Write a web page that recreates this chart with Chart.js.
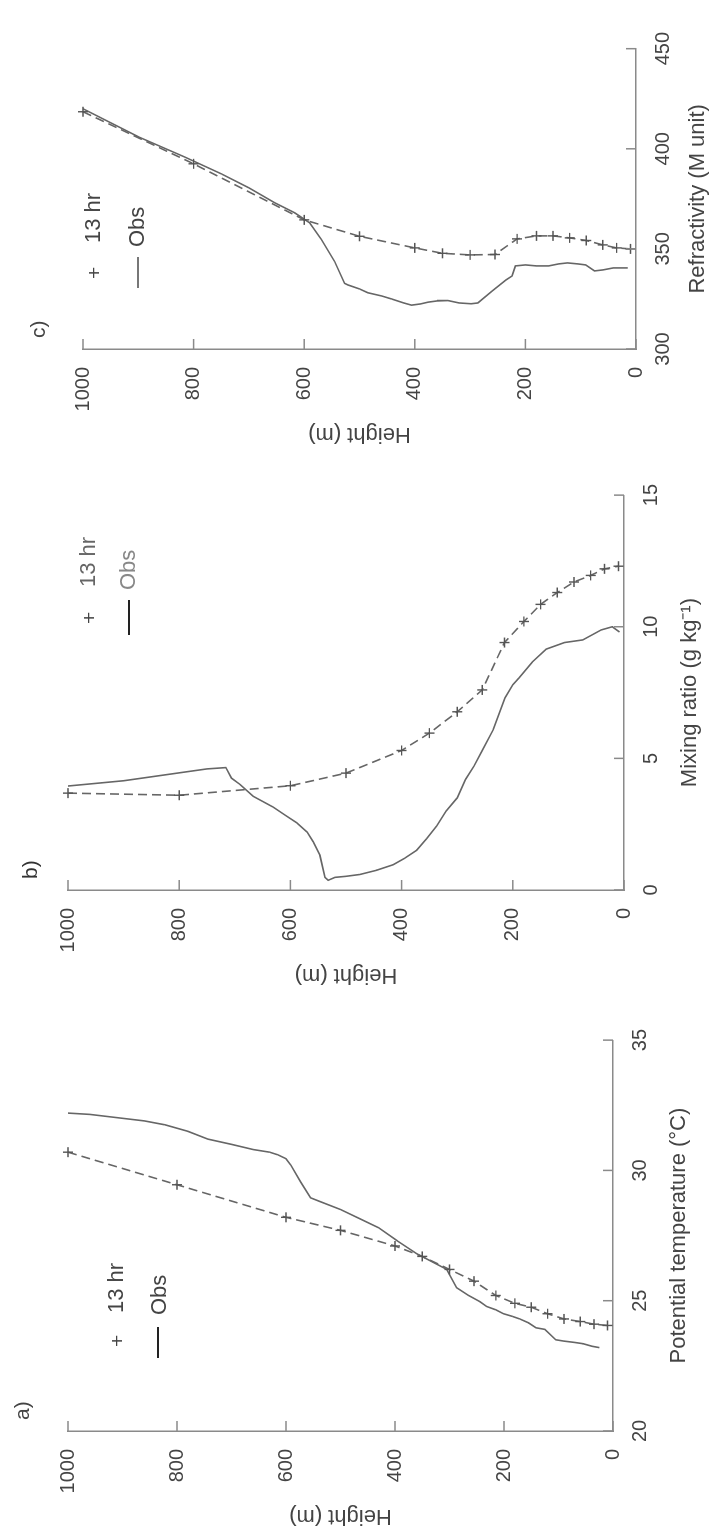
<!DOCTYPE html>
<html>
<head>
<meta charset="utf-8">
<script src="https://cdn.jsdelivr.net/npm/chart.js@4.4.1/dist/chart.umd.min.js"></script>
<style>
    html, body { margin: 0; padding: 0; background: #fff; overflow: hidden; }
    /* figura montada deitada (1529x715) e girada 90 graus, como no original escaneado */
    #figura {
        position: absolute; left: 0; top: 0; width: 1529px; height: 715px;
        transform-origin: 0 0; transform: translate(0px, 1529px) rotate(-90deg);
        font-family: 'Liberation Sans', Arial, sans-serif; color: #444;
    }
    #figura canvas { position: absolute; top: 0; }
    .rotulo { position: absolute; font-size: 21px; line-height: 1; white-space: nowrap; }
    .linha_leg { position: absolute; height: 0; border-top: 2px solid #222; }
</style>
</head>
<body>
<div id="figura">
    <canvas id="grafico_a" width="515" height="715" style="left:0px"></canvas>
    <canvas id="grafico_b" width="519" height="715" style="left:541px"></canvas>
    <canvas id="grafico_c" width="430" height="715" style="left:1082px"></canvas>

    <div class="rotulo" style="left:109px; top:11px">a)</div>
    <div class="rotulo" style="left:182px; top:106px">+</div>
    <div class="rotulo" style="left:216px; top:105px; font-size:22px">13 hr</div>
    <div class="linha_leg" style="left:171px; top:157px; width:31px"></div>
    <div class="rotulo" style="left:214px; top:148px; font-size:22px">Obs</div>

    <div class="rotulo" style="left:650px; top:19px; color:#333">b)</div>
    <div class="rotulo" style="left:905px; top:78px">+</div>
    <div class="rotulo" style="left:942px; top:77px; font-size:22px; color:#666">13 hr</div>
    <div class="linha_leg" style="left:894px; top:128px; width:35px"></div>
    <div class="rotulo" style="left:939px; top:117px; font-size:22px; color:#888">Obs</div>

    <div class="rotulo" style="left:1191px; top:27px">c)</div>
    <div class="rotulo" style="left:1250px; top:83px">+</div>
    <div class="rotulo" style="left:1286px; top:82px; font-size:22px">13 hr</div>
    <div class="linha_leg" style="left:1241px; top:137px; width:31px; border-top-color:#777"></div>
    <div class="rotulo" style="left:1282px; top:126px; font-size:22px">Obs</div>
</div>

<script>
// alturas (m) dos niveis do modelo, usadas nas tres curvas de 13 hr
var alturas_modelo = [1000, 800, 600, 500, 400, 350, 300, 255, 215, 180, 150, 120, 90, 60, 35, 10];
var ticks_altura = [0, 200, 400, 600, 800, 1000];

// a) temperatura potencial (C)
var ticks_temp = [20, 25, 30, 35];
var temp_13hr = [30.7, 29.45, 28.2, 27.7, 27.1, 26.7, 26.2, 25.75, 25.2, 24.9, 24.75, 24.5, 24.3, 24.2, 24.1, 24.05];
var alturas_temp_obs = [1000, 960, 900, 860, 822, 780, 743, 700, 660, 630, 615, 600, 591, 573, 555, 537, 500, 470, 430, 396,
    360, 323, 305, 287, 265, 244, 232, 215, 201, 185, 171, 155, 141, 125, 105, 90, 71, 55, 38, 25];
var temp_obs = [32.2, 32.15, 32.0, 31.9, 31.75, 31.5, 31.2, 31.0, 30.8, 30.7, 30.6, 30.45, 30.2, 29.55, 28.95, 28.8, 28.5, 28.2, 27.8, 27.3,
    26.8, 26.4, 26.2, 25.5, 25.2, 24.96, 24.78, 24.65, 24.5, 24.4, 24.3, 24.15, 23.96, 23.9, 23.5, 23.45, 23.4, 23.35, 23.25, 23.2];

// b) razao de mistura (g/kg)
var ticks_mistura = [0, 5, 10, 15];
var mistura_13hr = [3.68, 3.6, 3.96, 4.44, 5.3, 5.96, 6.77, 7.6, 9.4, 10.2, 10.85, 11.3, 11.7, 11.95, 12.2, 12.3];
var alturas_mistura_obs = [1000, 900, 800, 750, 716, 706, 690, 667, 631, 610, 589, 570, 559, 547, 538, 532, 520, 500, 475, 445,
    415, 395, 373, 355, 337, 320, 300, 285, 270, 255, 235, 214, 200, 189, 165, 140, 107, 74, 41, 21, 8];
var mistura_obs = [3.95, 4.15, 4.45, 4.6, 4.65, 4.25, 4.0, 3.56, 3.15, 2.85, 2.56, 2.2, 1.83, 1.32, 0.48, 0.37, 0.48, 0.52, 0.59, 0.75,
    0.96, 1.2, 1.51, 1.95, 2.43, 3.0, 3.5, 4.2, 4.7, 5.3, 6.1, 7.3, 7.8, 8.05, 8.66, 9.15, 9.4, 9.5, 9.88, 10.0, 9.8];

// c) refratividade (unidades M)
var ticks_refrat = [300, 350, 400, 450];
var refrat_13hr = [418.5, 392.5, 364.5, 356.3, 350.5, 347.8, 347, 347.2, 355, 356.5, 356.5, 355.5, 354.2, 352, 350.5, 350];
var alturas_refrat_obs = [1000, 900, 817, 750, 700, 653, 617, 590, 569, 545, 527, 521, 500, 485, 460, 442, 420, 406, 390, 376,
    360, 340, 320, 298, 286, 260, 235, 224, 218, 200, 180, 158, 140, 124, 105, 91, 75, 60, 41, 25, 15];
var refrat_obs = [420, 406, 396, 387.5, 380.5, 373, 368, 363, 354.7, 343.7, 332.8, 332, 330, 328.1, 326.5, 325, 323, 321.9, 322.5, 323.4,
    324, 324.2, 323, 322.6, 323, 329, 334.5, 336.5, 341.5, 342, 341.5, 341.5, 342.5, 343, 342.5, 342, 339, 339.5, 340.5, 340.5, 340.5];

var cor_linha = '#666';
var cor_eixo = '#8a8a8a';
var cor_texto = '#444';
var fonte = "'Liberation Sans', Arial, sans-serif";

// marcas dos eixos voltadas para dentro do grafico
var marcas_internas = {
    id: 'marcas_internas',
    afterDatasetsDraw(chart) {
        var ctx = chart.ctx;
        var area = chart.chartArea;
        var sx = chart.scales.x;
        var sy = chart.scales.y;
        ctx.save();
        ctx.strokeStyle = cor_eixo;
        ctx.lineWidth = 1.5;
        sx.ticks.forEach(t => {
            var px = sx.getPixelForValue(t.value);
            ctx.beginPath();
            ctx.moveTo(px, area.bottom);
            ctx.lineTo(px, area.bottom - 10);
            ctx.stroke();
        });
        sy.ticks.forEach(t => {
            var py = sy.getPixelForValue(t.value);
            ctx.beginPath();
            ctx.moveTo(area.left, py);
            ctx.lineTo(area.left + 10, py);
            ctx.stroke();
        });
        ctx.restore();
    }
};

function construir_grafico(id, cfg) {
    var ctx = document.getElementById(id);

    var data = {
        datasets: [{
            label: '13 hr',
            data: alturas_modelo.map((h, i) => ({x: cfg.modelo[i], y: h})),
            showLine: true,
            borderColor: cor_linha,
            borderWidth: 1.6,
            borderDash: [9, 5],
            pointStyle: 'cross',
            pointRadius: 5,
            pointBorderWidth: 1.4,
            pointBorderColor: '#555',
            clip: 10
        }, {
            label: 'Obs',
            data: cfg.alturas_obs.map((h, i) => ({x: cfg.obs[i], y: h})),
            showLine: true,
            borderColor: cor_linha,
            borderWidth: 1.6,
            pointRadius: 0,
            clip: 10
        }]
    };

    new Chart(ctx, {
        type: 'scatter',
        data: data,
        options: {
            responsive: false,
            animation: false,
            layout: { padding: { left: 0, top: cfg.topo, right: 16, bottom: 0 } },
            plugins: { legend: { display: false }, tooltip: { enabled: false } },
            scales: {
                x: {
                    type: 'linear',
                    min: cfg.ticks_x[0],
                    max: cfg.ticks_x[cfg.ticks_x.length - 1],
                    afterBuildTicks: s => { s.ticks = cfg.ticks_x.map(v => ({value: v})); },
                    afterFit: s => { s.height = 715 - cfg.base; },
                    grid: { display: false, drawTicks: false },
                    border: { color: cor_eixo, width: 1.5 },
                    ticks: {
                        padding: 15, maxRotation: 0, color: cor_texto,
                        font: { family: fonte, size: 20 },
                        callback: v => String(v)
                    },
                    title: {
                        display: true, text: cfg.titulo_x, color: cor_texto,
                        font: { family: fonte, size: 22 },
                        padding: { top: 0, bottom: cfg.pad_titulo }
                    }
                },
                y: {
                    type: 'linear',
                    min: 0,
                    max: 1000,
                    afterBuildTicks: s => { s.ticks = ticks_altura.map(v => ({value: v})); },
                    afterFit: s => { s.width = 98; },
                    grid: { display: false, drawTicks: false },
                    border: { color: cor_eixo, width: 1.5 },
                    ticks: {
                        padding: 18, color: cor_texto,
                        font: { family: fonte, size: 20 },
                        callback: v => String(v)
                    },
                    title: {
                        display: true, text: 'Height (m)', color: cor_texto,
                        font: { family: fonte, size: 22 },
                        padding: 0
                    }
                }
            }
        },
        plugins: [marcas_internas]
    });
}

construir_grafico('grafico_a', {
    modelo: temp_13hr, alturas_obs: alturas_temp_obs, obs: temp_obs,
    ticks_x: ticks_temp, titulo_x: 'Potential temperature (°C)',
    topo: 68, base: 613, pad_titulo: 23
});
construir_grafico('grafico_b', {
    modelo: mistura_13hr, alturas_obs: alturas_mistura_obs, obs: mistura_obs,
    ticks_x: ticks_mistura, titulo_x: 'Mixing ratio (g kg\u207B\u00B9)',
    topo: 68, base: 624, pad_titulo: 12
});
construir_grafico('grafico_c', {
    modelo: refrat_13hr, alturas_obs: alturas_refrat_obs, obs: refrat_obs,
    ticks_x: ticks_refrat, titulo_x: 'Refractivity (M unit)',
    topo: 83, base: 636, pad_titulo: 4
});
</script>
</body>
</html>
